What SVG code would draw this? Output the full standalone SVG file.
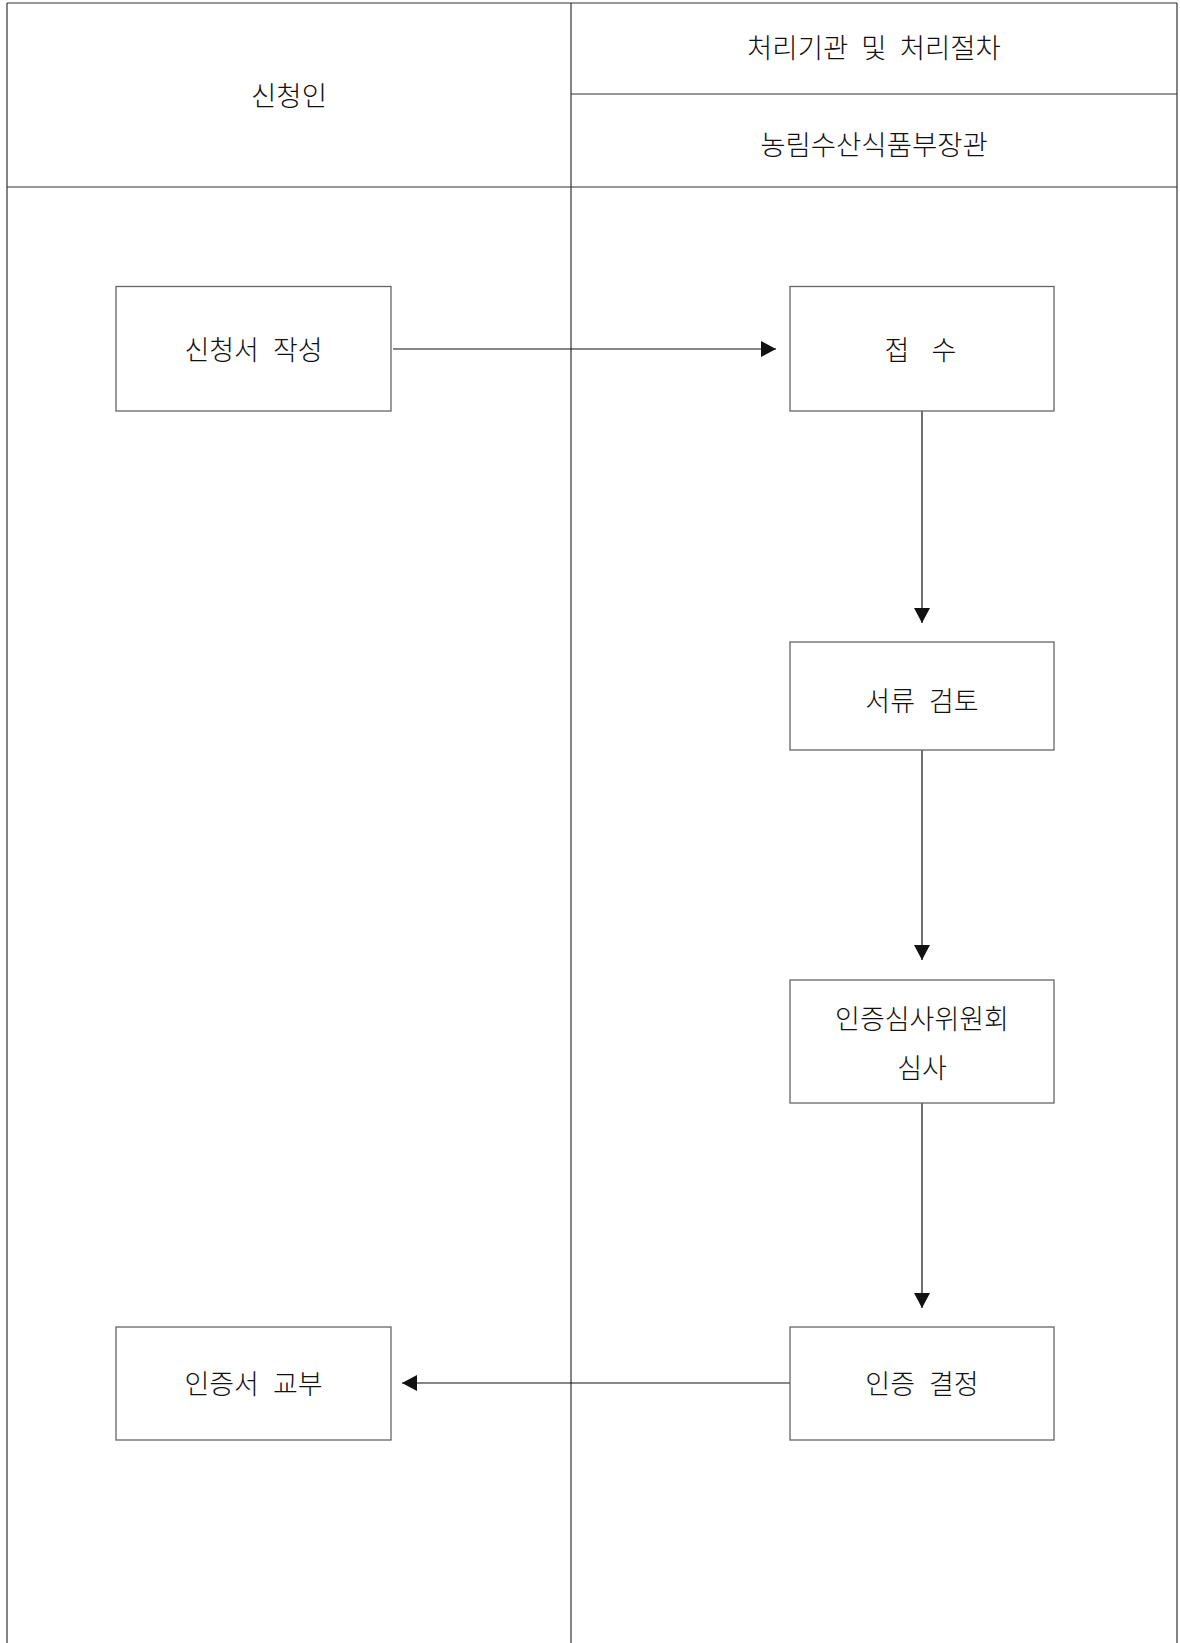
<svg xmlns="http://www.w3.org/2000/svg" width="1180" height="1643" viewBox="0 0 1180 1643">
<style>
  .frame { stroke: #333; stroke-width: 1.2; fill: none; }
  .box { fill: #fff; stroke: #666; stroke-width: 1.3; }
  .conn { stroke: #111; stroke-width: 1.2; fill: none; }
  text { font-family: "Noto Sans CJK KR", "Noto Sans", sans-serif; font-weight: 300; fill: #111; text-anchor: middle; }
  .hdr { font-size: 27.5px; word-spacing: 7px; }
  .lbl { font-size: 27px; word-spacing: 8px; }
</style>
<defs>
  <marker id="arrow" viewBox="0 0 15 16" refX="15" refY="8" markerWidth="15" markerHeight="16" markerUnits="userSpaceOnUse" orient="auto">
    <path d="M0,0 L15,8 L0,16 z" fill="#111"/>
  </marker>
</defs>
<rect width="1180" height="1643" fill="#fff"/>
<g id="lanes">
  <line class="frame" x1="7" y1="3" x2="1177" y2="3"/>
  <line class="frame" x1="7" y1="3" x2="7" y2="1643" stroke="#777" stroke-width="2"/>
  <line class="frame" x1="1177" y1="3" x2="1177" y2="1643"/>
  <line class="frame" x1="571" y1="3" x2="571" y2="1643"/>
  <line class="frame" x1="571" y1="94" x2="1177" y2="94"/>
  <line class="frame" x1="7" y1="187" x2="1177" y2="187"/>
  <text class="hdr" x="289" y="106">신청인</text>
  <text class="hdr" x="874" y="58">처리기관 및 처리절차</text>
  <text class="hdr" x="874" y="155">농림수산식품부장관</text>
</g>
<g id="connectors">
  <line class="conn" x1="393" y1="349" x2="776" y2="349" marker-end="url(#arrow)"/>
  <line class="conn" x1="922" y1="411" x2="922" y2="623" marker-end="url(#arrow)"/>
  <line class="conn" x1="922" y1="750" x2="922" y2="960" marker-end="url(#arrow)"/>
  <line class="conn" x1="922" y1="1103" x2="922" y2="1308" marker-end="url(#arrow)"/>
  <line class="conn" x1="790" y1="1383" x2="402" y2="1383" marker-end="url(#arrow)"/>
</g>
<g id="node-apply">
  <rect class="box" x="116" y="286.5" width="275" height="124.5"/>
  <text class="lbl" x="253.5" y="360">신청서 작성</text>
</g>
<g id="node-receive">
  <rect class="box" x="790" y="286.5" width="264" height="124.5"/>
  <text class="lbl" y="360"><tspan x="897">접</tspan><tspan x="944">수</tspan></text>
</g>
<g id="node-review">
  <rect class="box" x="790" y="642" width="264" height="108"/>
  <text class="lbl" x="922" y="711">서류 검토</text>
</g>
<g id="node-committee">
  <rect class="box" x="790" y="980" width="264" height="123"/>
  <text class="lbl" x="922" y="1029">인증심사위원회</text>
  <text class="lbl" x="922" y="1078">심사</text>
</g>
<g id="node-decision">
  <rect class="box" x="790" y="1327" width="264" height="113"/>
  <text class="lbl" x="922" y="1394">인증 결정</text>
</g>
<g id="node-issue">
  <rect class="box" x="116" y="1327" width="275" height="113"/>
  <text class="lbl" x="253.5" y="1394">인증서 교부</text>
</g>
</svg>
